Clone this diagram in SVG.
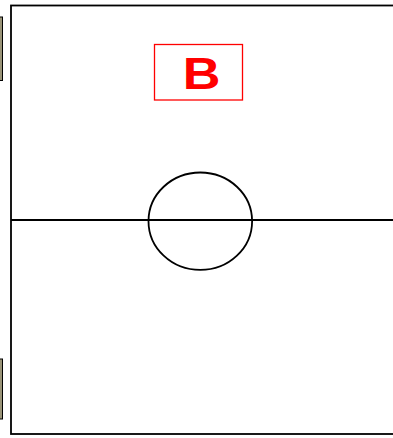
<svg xmlns="http://www.w3.org/2000/svg" width="393" height="438" viewBox="0 0 393 438">
<style>
.line{fill:none;stroke:#000;stroke-width:1.8}
.goal{fill:#9a9478;stroke:#000;stroke-width:1}
.lbl{fill:none;stroke:#f00;stroke-width:1.3}
.txt{font-family:"Liberation Sans",Arial,sans-serif;font-weight:bold;font-size:43.5px;fill:#f00}
</style>
<rect width="393" height="438" fill="#fff"/>
<g id="field">
<rect class="line" x="11" y="5.5" width="400" height="428.5"/>
</g>
<g id="goal-top"><rect class="goal" x="-2" y="17" width="4.5" height="63.5"/></g>
<g id="goal-bottom"><rect class="goal" x="-2" y="359" width="4.5" height="60"/></g>
<g id="connectors">
<line class="line" x1="11" y1="220" x2="393" y2="220"/>
</g>
<g id="center-circle"><ellipse class="line" cx="200.3" cy="221.2" rx="51.8" ry="48.7"/></g>
<g id="label-B">
<rect class="lbl" x="154.5" y="44.5" width="88" height="55.5"/>
<text class="txt" transform="translate(201.5 89) scale(1.2 1)" x="0" y="0" text-anchor="middle">B</text>
</g>
</svg>
